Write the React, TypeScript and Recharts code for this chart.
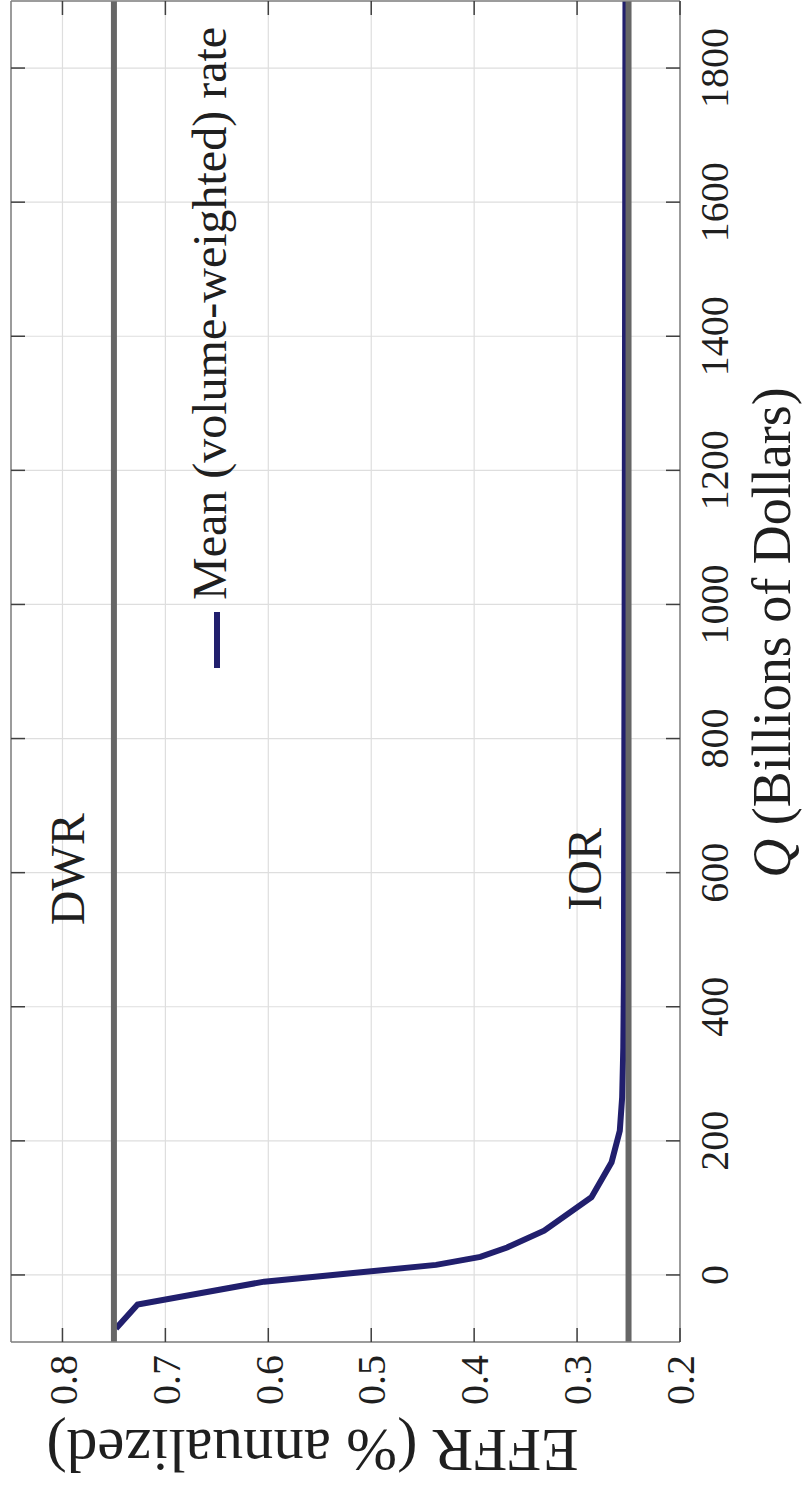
import React from "react";
import {
  LineChart,
  Line,
  XAxis,
  YAxis,
  CartesianGrid,
  ReferenceDot,
  Legend,
} from "recharts";

// Q (billions of dollars) and mean volume-weighted EFFR (% annualized)
const qValues = [-80, -44, -10, 15, 27, 41, 66, 116, 168, 215, 265, 339, 439, 700, 1000, 1400, 1900];
const effrValues = [
  0.748, 0.727, 0.604, 0.437, 0.394, 0.368, 0.332, 0.286, 0.2665, 0.2585, 0.2562,
  0.2551, 0.2545, 0.2542, 0.2538, 0.2534, 0.253,
];
const qTicks = [0, 200, 400, 600, 800, 1000, 1200, 1400, 1600, 1800];
const effrTicks = [0.2, 0.3, 0.4, 0.5, 0.6, 0.7, 0.8];
const qDomain = [-100, 1900];
const effrDomain = [0.2, 0.85];
const dwrRate = 0.75;
const iorRate = 0.25;
const labelQ = 605;

const curve = qValues.map((q, i) => ({ q, effr: effrValues[i] }));
const dwrData = qDomain.map((q) => ({ q, effr: dwrRate }));
const iorData = qDomain.map((q) => ({ q, effr: iorRate }));

const FONT = "'Liberation Serif', serif";
const NAVY = "#211f6d";
const GRAY = "#666666";
const AXIS = "#808080";
const TICK = "#404040";
const TEXT = "#1f1f1f";

const W = 1486;
const H = 804;

const noTick = () => <g />;

const renderEffrLabel = (props: any) => {
  const { viewBox } = props;
  const x = viewBox.x + 56;
  const y = viewBox.y + viewBox.height / 2 - 33;
  return (
    <text
      x={x}
      y={y}
      transform={`rotate(-90 ${x} ${y})`}
      textAnchor="middle"
      style={{ fontFamily: FONT }}
      fontSize={61}
      fill={TEXT}
    >
      EFFR (% annualized)
    </text>
  );
};

const renderQLabel = (props: any) => {
  const { viewBox } = props;
  const x = viewBox.x + viewBox.width / 2 + 39;
  const y = viewBox.y + 110;
  return (
    <text x={x} y={y} textAnchor="middle" style={{ fontFamily: FONT }} fontSize={54} fill={TEXT}>
      <tspan fontStyle="italic">Q</tspan> (Billions of Dollars)
    </text>
  );
};

const renderLegend = (props: any) => {
  const items = (props.payload || []).filter((p: any) => p.type !== "none");
  return (
    <div>
      {items.map((p: any) => (
        <div
          key={p.value}
          style={{
            display: "flex",
            alignItems: "center",
            fontFamily: FONT,
            fontSize: 48,
            lineHeight: 1,
            color: TEXT,
            whiteSpace: "nowrap",
          }}
        >
          <span
            style={{
              display: "inline-block",
              width: 56,
              height: 6,
              background: p.color,
              marginRight: 12,
              position: "relative",
              top: 7,
            }}
          />
          <span>{p.value}</span>
        </div>
      ))}
    </div>
  );
};

export default function App() {
  return (
    <div
      style={{
        position: "absolute",
        left: 0,
        top: 0,
        width: H,
        height: W,
        overflow: "hidden",
        background: "#fff",
      }}
    >
      <div
        style={{
          position: "absolute",
          left: 0,
          top: 0,
          width: W,
          height: H,
          transformOrigin: "0 0",
          transform: `translate(0px, ${W}px) rotate(-90deg)`,
        }}
      >
        <LineChart
          width={W}
          height={H}
          data={curve}
          margin={{ top: 10, right: 0, left: 0, bottom: 0 }}
        >
          <CartesianGrid stroke="#dedede" strokeWidth={1.2} />
          <XAxis
            dataKey="q"
            type="number"
            domain={qDomain}
            ticks={qTicks}
            allowDataOverflow
            height={124}
            tickSize={-14}
            tickMargin={34}
            axisLine={{ stroke: AXIS, strokeWidth: 1.5 }}
            tickLine={{ stroke: TICK, strokeWidth: 1.5 }}
            tick={{ fill: TEXT, fontSize: 40, style: { fontFamily: FONT } }}
            label={renderQLabel}
          />
          <XAxis
            xAxisId="top"
            orientation="top"
            dataKey="q"
            type="number"
            domain={qDomain}
            ticks={qTicks}
            allowDataOverflow
            height={1}
            tickSize={-14}
            axisLine={{ stroke: AXIS, strokeWidth: 1.5 }}
            tickLine={{ stroke: TICK, strokeWidth: 1.5 }}
            tick={noTick}
          />
          <YAxis
            type="number"
            domain={effrDomain}
            ticks={effrTicks}
            allowDataOverflow
            width={144}
            tickSize={-14}
            tickMargin={27}
            tickFormatter={(v: number) => v.toFixed(1)}
            axisLine={{ stroke: AXIS, strokeWidth: 1.5 }}
            tickLine={{ stroke: TICK, strokeWidth: 1.5 }}
            tick={{ fill: TEXT, fontSize: 40, style: { fontFamily: FONT } }}
            label={renderEffrLabel}
          />
          <YAxis
            yAxisId="right"
            orientation="right"
            type="number"
            domain={effrDomain}
            ticks={effrTicks}
            allowDataOverflow
            width={1}
            tickSize={-14}
            axisLine={{ stroke: AXIS, strokeWidth: 1.5 }}
            tickLine={{ stroke: TICK, strokeWidth: 1.5 }}
            tick={noTick}
          />
          <Line
            name="Mean (volume-weighted) rate"
            dataKey="effr"
            type="linear"
            stroke={NAVY}
            strokeWidth={6}
            dot={false}
            isAnimationActive={false}
          />
          <Line
            data={dwrData}
            dataKey="effr"
            type="linear"
            stroke={GRAY}
            strokeWidth={6}
            dot={false}
            legendType="none"
            isAnimationActive={false}
          />
          <Line
            data={iorData}
            dataKey="effr"
            type="linear"
            stroke={GRAY}
            strokeWidth={6}
            dot={false}
            legendType="none"
            isAnimationActive={false}
          />
          <ReferenceDot
            x={labelQ}
            y={dwrRate}
            r={0}
            fill="none"
            stroke="none"
            label={{ value: "DWR", position: "top", offset: 30, fill: TEXT, fontSize: 48, style: { fontFamily: FONT } }}
          />
          <ReferenceDot
            x={labelQ}
            y={iorRate}
            r={0}
            fill="none"
            stroke="none"
            label={{ value: "IOR", position: "top", offset: 28, fill: TEXT, fontSize: 48, style: { fontFamily: FONT } }}
          />
          <Legend
            layout="horizontal"
            align="center"
            verticalAlign="middle"
            content={renderLegend}
            wrapperStyle={{ left: 818, top: 186, width: "auto", height: "auto" }}
          />
        </LineChart>
      </div>
    </div>
  );
}
